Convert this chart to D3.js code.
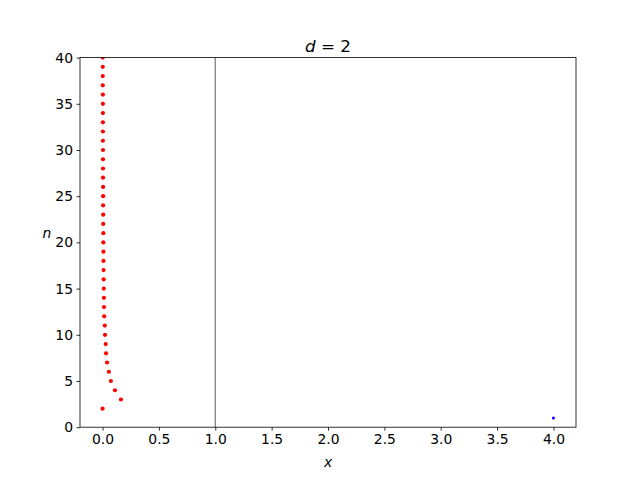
<!DOCTYPE html>
<html><head><meta charset="utf-8">
<script src="https://cdn.jsdelivr.net/npm/d3@7"></script>
<style>body{margin:0;background:#fff}svg{display:block}text{font-family:"DejaVu Sans",sans-serif}</style>
</head><body>
<svg id="c" width="640" height="480"></svg>
<script>
const redN = [2,3,4,5,6,7,8,9,10,11,12,13,14,15,16,17,18,19,20,21,22,23,24,25,26,27,28,29,30,31,32,33,34,35,36,37,38,39,40];
const redX = [0,0.163,0.11,0.074,0.056,0.04,0.031,0.028,0.022,0.02,0.015,0.013,0.012,0.011,0.01,0.009,0.008,0.008,0.007,0.007,0.006,0.006,0.005,0.005,0.005,0.004,0.004,0.004,0.004,0.003,0.003,0.003,0.003,0.003,0.003,0.002,0.002,0.002,0.002];
const blueN = [1];
const blueX = [4];
const vlineX = 1;
const xTicks = [0,0.5,1,1.5,2,2.5,3,3.5,4];
const yTicks = [0,5,10,15,20,25,30,35,40];

const svg = d3.select("#c");
const L=80, R=576, T=57.6, B=427.2;
const x = d3.scaleLinear().domain([-0.2,4.2]).range([L,R]);
const y = d3.scaleLinear().domain([0,40]).range([B,T]);

svg.append("clipPath").attr("id","clp").append("rect").attr("x",L).attr("y",T).attr("width",R-L).attr("height",B-T);
const g = svg.append("g").attr("clip-path","url(#clp)");
g.append("line").attr("x1",x(vlineX)).attr("x2",x(vlineX)).attr("y1",T).attr("y2",B).attr("stroke","#808080").attr("stroke-width",1.3);
g.selectAll("circle.r").data(redN.map((n,i)=>({n,x:redX[i]}))).enter().append("circle")
  .attr("cx",d=>x(d.x)).attr("cy",d=>y(d.n)).attr("r",2.1).attr("fill","#ff0000");
g.selectAll("circle.b").data(blueN.map((n,i)=>({n,x:blueX[i]}))).enter().append("circle")
  .attr("cx",d=>x(d.x)).attr("cy",d=>y(d.n)).attr("r",1.5).attr("fill","#0000ff");

const fmt = d3.format(".1f");
const xa = svg.append("g").attr("transform",`translate(0,${B})`)
  .call(d3.axisBottom(x).tickValues(xTicks).tickFormat(fmt).tickSizeOuter(0).tickSize(3.5).tickPadding(3.5));
const ya = svg.append("g").attr("transform",`translate(${L},0)`)
  .call(d3.axisLeft(y).tickValues(yTicks).tickFormat(d3.format("d")).tickSizeOuter(0).tickSize(3.5).tickPadding(3.5));
[xa,ya].forEach(a=>{a.select(".domain").remove();a.selectAll("text").attr("font-size","13.9px").attr("fill","#000").style("font-family","DejaVu Sans");a.selectAll("line").attr("stroke","#000").attr("stroke-width",0.8);});

svg.append("rect").attr("x",L).attr("y",T).attr("width",R-L).attr("height",B-T).attr("fill","none").attr("stroke","#000").attr("stroke-width",0.8);

const title = svg.append("text").attr("x",(L+R)/2).attr("y",T-6).attr("text-anchor","middle").attr("font-size","16.7px");
title.append("tspan").attr("font-style","italic").text("d");
title.append("tspan").text(" = 2");
svg.append("text").attr("x",(L+R)/2).attr("y",467).attr("text-anchor","middle").attr("font-size","13.9px").attr("font-style","italic").text("x");
svg.append("text").attr("x",47).attr("y",238).attr("text-anchor","middle").attr("font-size","13.9px").attr("font-style","italic").text("n");
</script>
</body></html>
